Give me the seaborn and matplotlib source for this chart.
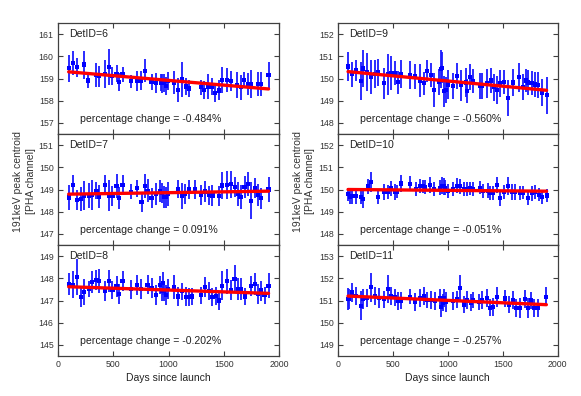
import numpy as np
import pandas as pd
import matplotlib
matplotlib.use("Agg")
import matplotlib.pyplot as plt
import seaborn as sns
from matplotlib.ticker import MultipleLocator

# ---------------- data ----------------
det_ids = [6, 7, 8, 9, 10, 11]
pct_change = [-0.484, 0.091, -0.202, -0.560, -0.051, -0.257]
fit_start = [159.30, 148.79, 147.62, 150.31, 150.00, 151.20]
y_center = [159.0, 149.0, 147.0, 150.0, 150.0, 151.0]

days_6 = [99, 138, 175, 238, 274, 344, 371, 425, 464, 491, 531, 555, 585, 660, 715, 751, 787, 847, 884, 929,
          944, 962, 974, 998, 1053, 1089, 1119, 1155, 1185, 1294, 1324, 1360, 1391, 1421, 1457, 1481, 1526,
          1565, 1620, 1656, 1683, 1716, 1746, 1807, 1834, 1903]
vals_6 = [159.46, 159.70, 159.51, 159.63, 158.91, 159.15, 159.10, 159.19, 159.51, 159.12, 159.22, 158.85, 159.19,
          158.88, 158.90, 158.90, 159.34, 158.84, 158.78, 158.81, 158.78, 158.81, 158.67, 158.88, 158.81, 158.48,
          158.96, 158.64, 158.55, 158.60, 158.48, 158.64, 158.64, 158.36, 158.46, 158.93, 158.93, 158.87, 158.70,
          158.61, 158.93, 158.75, 158.75, 158.75, 158.75, 159.15]
errs_6 = [0.60, 0.55, 0.42, 0.63, 0.36, 0.54, 0.48, 0.63, 0.80, 0.42, 0.38, 0.42, 0.35, 0.30, 0.45, 0.42, 0.52,
          0.38, 0.45, 0.38, 0.42, 0.40, 0.42, 0.42, 0.52, 0.56, 0.78, 0.37, 0.37, 0.34, 0.41, 0.56, 0.37, 0.41,
          0.45, 0.60, 0.56, 0.45, 0.60, 0.56, 0.37, 0.49, 0.63, 0.56, 0.56, 0.60]

days_7 = [99, 138, 175, 214, 238, 280, 313, 350, 374, 425, 461, 494, 531, 555, 585, 660, 715, 757, 787, 811,
          847, 887, 926, 944, 956, 974, 998, 1089, 1119, 1149, 1185, 1240, 1294, 1330, 1366, 1397, 1457, 1481,
          1526, 1563, 1602, 1626, 1650, 1686, 1716, 1747, 1777, 1807, 1837, 1903]
vals_7 = [148.64, 149.21, 148.53, 148.58, 148.73, 148.73, 148.76, 148.95, 148.68, 149.21, 148.73, 148.70, 149.15,
          148.61, 149.21, 148.89, 149.05, 148.44, 149.15, 148.94, 148.61, 148.80, 148.95, 148.85, 148.68, 148.65,
          148.80, 149.02, 148.70, 148.79, 149.00, 149.00, 148.77, 148.91, 148.74, 148.73, 148.70, 149.18, 149.21,
          149.23, 149.11, 148.80, 148.65, 149.11, 149.26, 148.50, 149.06, 148.77, 148.61, 149.00]
errs_7 = [0.57, 0.45, 0.45, 0.53, 0.64, 0.55, 0.68, 0.38, 0.53, 0.45, 0.68, 0.45, 0.53, 0.49, 0.45, 0.34, 0.38,
          0.45, 0.53, 0.52, 0.45, 0.48, 0.50, 0.45, 0.50, 0.48, 0.55, 0.42, 0.60, 0.45, 0.45, 0.42, 0.45, 0.48,
          0.42, 0.48, 0.45, 0.62, 0.62, 0.60, 0.45, 0.55, 0.55, 0.50, 0.55, 0.82, 0.45, 0.50, 0.48, 0.55]

days_8 = [99, 138, 175, 214, 238, 280, 313, 350, 374, 425, 461, 494, 531, 555, 585, 660, 715, 751, 811, 847,
          884, 926, 938, 953, 962, 977, 998, 1053, 1089, 1119, 1155, 1185, 1209, 1294, 1330, 1366, 1397, 1427,
          1457, 1481, 1526, 1565, 1596, 1626, 1650, 1692, 1747, 1777, 1807, 1837, 1867, 1903]
vals_8 = [147.74, 147.71, 148.06, 147.15, 147.38, 147.52, 147.82, 147.94, 147.89, 147.45, 147.89, 147.48, 147.64,
          147.30, 147.88, 147.50, 147.70, 147.50, 147.71, 147.55, 147.23, 147.70, 147.44, 147.77, 147.44, 147.26,
          147.53, 147.62, 147.18, 147.41, 147.17, 147.17, 147.18, 147.23, 147.62, 147.44, 147.15, 147.20, 147.00,
          147.67, 147.86, 147.48, 147.97, 147.52, 147.52, 147.18, 147.64, 147.74, 147.29, 147.45, 147.23, 147.67]
errs_8 = [0.50, 0.60, 0.80, 0.45, 0.60, 0.35, 0.50, 0.45, 0.55, 0.45, 0.50, 0.40, 0.48, 0.45, 0.45, 0.42, 0.45,
          0.45, 0.42, 0.45, 0.45, 0.40, 0.45, 0.50, 0.45, 0.45, 0.45, 0.55, 0.45, 0.40, 0.42, 0.40, 0.40, 0.40,
          0.45, 0.40, 0.40, 0.40, 0.45, 0.65, 0.55, 0.45, 0.65, 0.50, 0.50, 0.40, 0.45, 0.50, 0.45, 0.45, 0.40,
          0.55]

days_9 = [94, 133, 169, 209, 230, 269, 306, 336, 366, 421, 457, 488, 524, 548, 578, 654, 706, 751, 784, 809,
          845, 875, 921, 936, 951, 966, 981, 1003, 1048, 1084, 1124, 1169, 1178, 1206, 1233, 1296, 1315, 1357,
          1390, 1418, 1448, 1472, 1512, 1551, 1597, 1645, 1684, 1709, 1730, 1766, 1796, 1821, 1857, 1899]
vals_9 = [150.54, 150.19, 150.36, 149.88, 150.45, 150.31, 150.07, 150.19, 150.28, 149.78, 150.19, 150.25, 150.25,
          149.84, 150.19, 150.16, 150.09, 149.91, 149.78, 150.34, 150.16, 149.48, 149.85, 150.43, 150.49, 149.43,
          149.49, 149.73, 149.67, 150.12, 149.69, 149.82, 149.43, 150.06, 149.88, 149.67, 149.67, 149.78, 149.91,
          149.60, 149.48, 149.78, 149.84, 149.12, 149.82, 150.06, 149.61, 149.91, 149.82, 149.79, 149.73, 149.70,
          149.37, 149.24]
errs_9 = [0.67, 0.56, 0.48, 0.86, 0.82, 0.86, 0.75, 0.63, 0.60, 0.70, 0.93, 0.75, 0.56, 0.52, 0.63, 0.63, 0.56,
          0.75, 0.52, 0.48, 0.56, 0.78, 0.60, 0.86, 0.70, 0.70, 0.60, 0.65, 0.60, 0.60, 0.70, 0.65, 0.55, 0.60,
          0.55, 0.60, 0.60, 0.65, 0.55, 0.60, 0.65, 0.60, 0.55, 0.80, 0.60, 0.65, 0.60, 0.50, 0.55, 0.55, 0.55,
          0.60, 0.60, 0.85]

days_10 = [94, 109, 133, 169, 209, 230, 275, 306, 366, 421, 457, 488, 524, 542, 578, 654, 709, 748, 775, 797,
           836, 875, 933, 948, 963, 978, 1003, 1048, 1084, 1115, 1148, 1178, 1203, 1230, 1290, 1321, 1366, 1387,
           1412, 1451, 1478, 1509, 1548, 1588, 1615, 1657, 1687, 1730, 1769, 1796, 1830, 1860, 1899]
vals_10 = [149.79, 149.68, 149.71, 149.71, 149.68, 149.59, 150.14, 150.33, 149.65, 149.89, 149.89, 150.05, 149.88,
           149.91, 150.27, 150.26, 150.02, 150.14, 150.14, 150.11, 150.20, 150.02, 150.08, 150.17, 150.14, 150.08,
           149.92, 150.02, 150.17, 150.14, 150.02, 150.02, 150.05, 150.02, 150.08, 149.94, 149.95, 149.83, 149.83,
           150.20, 149.61, 149.88, 150.17, 149.88, 149.88, 149.86, 149.86, 149.61, 149.83, 149.89, 149.76, 149.68,
           149.73]
errs_10 = [0.30, 0.32, 0.35, 0.35, 0.35, 0.42, 0.35, 0.45, 0.30, 0.35, 0.32, 0.35, 0.35, 0.30, 0.40, 0.35, 0.30,
           0.32, 0.30, 0.30, 0.35, 0.30, 0.35, 0.38, 0.40, 0.35, 0.32, 0.30, 0.35, 0.35, 0.30, 0.32, 0.30, 0.30,
           0.30, 0.32, 0.35, 0.32, 0.32, 0.35, 0.35, 0.32, 0.40, 0.35, 0.35, 0.32, 0.30, 0.32, 0.35, 0.32, 0.30,
           0.32, 0.30]

days_11 = [94, 103, 133, 169, 209, 230, 269, 306, 342, 372, 421, 457, 488, 524, 548, 578, 654, 706, 751, 784,
           809, 845, 881, 930, 942, 954, 966, 981, 1048, 1084, 1115, 1145, 1178, 1209, 1230, 1284, 1315, 1354,
           1387, 1412, 1451, 1518, 1554, 1597, 1618, 1657, 1703, 1730, 1754, 1784, 1821, 1897]
vals_11 = [151.06, 151.06, 151.36, 151.21, 150.76, 151.05, 151.12, 151.59, 151.21, 151.12, 151.05, 151.52, 151.21,
           151.14, 150.98, 151.00, 151.17, 150.92, 151.12, 151.20, 151.02, 151.02, 150.98, 151.12, 150.71, 150.91,
           151.12, 150.94, 150.97, 151.05, 151.56, 150.82, 151.03, 150.91, 151.03, 150.94, 151.03, 151.11, 150.68,
           150.71, 151.14, 151.09, 150.82, 151.02, 150.65, 150.65, 151.06, 150.65, 151.00, 150.65, 150.67, 151.17]
errs_11 = [0.50, 0.45, 0.42, 0.40, 0.65, 0.45, 0.40, 0.65, 0.40, 0.45, 0.40, 0.65, 0.40, 0.40, 0.42, 0.40, 0.35,
           0.40, 0.40, 0.40, 0.35, 0.40, 0.40, 0.40, 0.45, 0.40, 0.40, 0.45, 0.40, 0.40, 0.60, 0.40, 0.40, 0.40,
           0.35, 0.35, 0.40, 0.40, 0.40, 0.40, 0.45, 0.40, 0.40, 0.42, 0.40, 0.45, 0.40, 0.45, 0.40, 0.40, 0.40,
           0.42]

x_ticks = [0, 500, 1000, 1500, 2000]
x_label = "Days since launch"
y_label = "191keV peak centroid\n[PHA channel]"

series = {6: (days_6, vals_6, errs_6), 7: (days_7, vals_7, errs_7), 8: (days_8, vals_8, errs_8),
          9: (days_9, vals_9, errs_9), 10: (days_10, vals_10, errs_10), 11: (days_11, vals_11, errs_11)}

# ---------------- style ----------------
sns.set_style("ticks")
plt.rcParams['font.family'] = ['Liberation Sans', 'DejaVu Sans']
TXT = '#222222'
SPINE = '#404040'

W, H = 581, 396
fig = plt.figure(figsize=(W / 100, H / 100), dpi=100)

col_left_px = [57.7, 337.7]
col_right_px = [279.3, 557.7]
row_tops_px = [23, 134, 245]
row_h_px = 111

for i, det in enumerate(det_ids):
    col = i // 3
    row = i % 3
    l = col_left_px[col] / W
    w = (col_right_px[col] - col_left_px[col]) / W
    b = 1 - (row_tops_px[row] + row_h_px) / H
    h = row_h_px / H
    ax = fig.add_axes([l, b, w, h])
    d, v, e = series[det]
    df = pd.DataFrame({"day": d, "val": v, "err": e})
    ax.errorbar(df["day"], df["val"], yerr=df["err"], fmt='none', ecolor='#1a1aff',
                elinewidth=1.3, capsize=0, zorder=2)
    sns.scatterplot(data=df, x="day", y="val", ax=ax, marker='s', s=9, color='#0000ff',
                    edgecolor='none', zorder=3, legend=False)
    f0 = fit_start[i]
    f1 = f0 * (1 + pct_change[i] / 100.0)
    fit_df = pd.DataFrame({"day": [d[0], d[-1]], "val": [f0, f1]})
    sns.lineplot(data=fit_df, x="day", y="val", ax=ax, color='#ff0000', lw=2.4, zorder=4)

    ax.set_xlim(0, 2000)
    ax.set_ylim(y_center[i] - 2.5, y_center[i] + 2.5)
    ax.set_xticks(x_ticks)
    ax.yaxis.set_major_locator(MultipleLocator(1))
    ax.tick_params(direction='in', top=True, right=True, length=3.5, width=0.8,
                   color=SPINE, labelsize=6.3, labelcolor='#333333', pad=3)
    for sp in ax.spines.values():
        sp.set_color(SPINE)
        sp.set_linewidth(0.9)
    ax.set_xlabel("")
    ax.set_ylabel("")
    if row < 2:
        ax.tick_params(labelbottom=False)
    else:
        ax.set_xlabel(x_label, fontsize=7.5, color=TXT, labelpad=3)
    ax.text(0.05, 0.90, f"DetID={det}", transform=ax.transAxes, fontsize=7.6,
            color=TXT, ha='left', va='center')
    ax.text(0.10, 0.135, f"percentage change = {pct_change[i]:.3f}%", transform=ax.transAxes,
            fontsize=7.6, color=TXT, ha='left', va='center')

# y labels
for xc in [24.5 / W, 304 / W]:
    fig.text(xc, 1 - 181 / H, y_label, rotation=90, ha='center', va='center',
             fontsize=7.5, color='#333333', linespacing=1.25)

fig.savefig("out.png", dpi=100)
